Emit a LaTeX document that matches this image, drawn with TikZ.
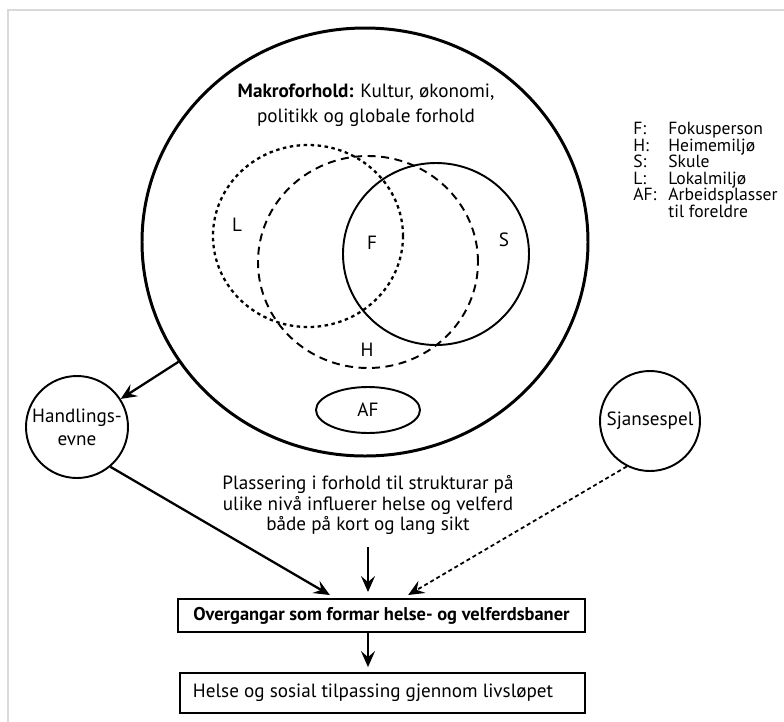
\documentclass[tikz,border=0pt]{standalone}
\usepackage{fontspec}
\setmainfont{PT Sans}
\usetikzlibrary{shapes.geometric, arrows.meta, positioning}

\begin{document}
\begin{tikzpicture}[x=0.2mm, y=-0.2mm,
  txt/.style={font=\fontsize{10.9}{14.2}\selectfont},
  ring/.style={draw, ellipse, line width=1.1pt, inner sep=0pt},
  lbl/.style={txt, inner sep=0pt},
  arr/.style={-{Stealth[length=3.2mm, width=2.8mm, inset=1.2mm]}, line width=1.3pt},
  box/.style={draw, line width=1.1pt, font=\fontsize{10.5}{12}\selectfont}]
\useasboundingbox (0,0) rectangle (784,722);
\fill[white] (0,0) rectangle (784,722);
\draw[black!15, line width=0.5mm] (8,722) -- (8,10) -- (784,10);

% makroforhold og miljoa
\node[ring, line width=1.7pt, minimum width=89.2mm, minimum height=85.6mm] (makro) at (365,242) {};
\node[txt, align=center] (makrotxt) at (366,105) {\textbf{Makroforhold:} Kultur, økonomi,\\politikk og globale forhold};
\node[ring, line width=1.3pt, dash pattern=on 0.7mm off 0.7mm, minimum width=38mm, minimum height=36.4mm] (lokal) at (308,236) {};
\node[ring, dash pattern=on 1.6mm off 1.1mm, minimum width=44mm, minimum height=42.4mm] (heim) at (368,262) {};
\node[ring, minimum width=37.2mm, minimum height=36.4mm] (skule) at (436,254) {};
\node[lbl] (lokalL) at (237,225) {L};
\node[lbl] (fokusF) at (372,243) {F};
\node[lbl] (heimH) at (367,350) {H};
\node[lbl] (skuleS) at (504,240) {S};
\node[ring, txt, minimum width=20.8mm, minimum height=9.2mm] (af) at (368,410) {AF};

% forklaring
\node[anchor=north west, inner sep=0pt, align=left, font=\fontsize{10}{9.4}\selectfont] (key) at (633,122)
  {\makebox[7mm][l]{F:}Fokusperson\\
   \makebox[7mm][l]{H:}Heimemiljø\\
   \makebox[7mm][l]{S:}Skule\\
   \makebox[7mm][l]{L:}Lokalmiljø\\
   \makebox[7mm][l]{AF:}Arbeidsplasser\\
   \hspace*{7mm}til foreldre};

% handling og sjanse
\node[draw, circle, line width=1.1pt, minimum size=20.4mm, inner sep=0pt, align=center, font=\fontsize{10.9}{13}\selectfont] (handl) at (77,427) {Handlings-\\evne};
\node[draw, circle, line width=1.1pt, minimum size=20mm, inner sep=0pt, txt] (sjanse) at (650,421) {Sjansespel};
\node[align=center, inner ysep=2.4mm, font=\fontsize{10.9}{11.6}\selectfont] (plass) at (368,505) {Plassering i forhold til strukturar på\\ulike nivå influerer helse og velferd\\både på kort og lang sikt};

% boksar
\node[box, minimum width=81.4mm, minimum height=6.6mm, font=\bfseries\fontsize{10.5}{12}\selectfont] (overgang) at (381.5,615.5) {Overgangar som formar helse- og velferdsbaner};
\node[box, inner xsep=2.6mm, minimum height=8mm, font=\fontsize{10.9}{12}\selectfont] (helse) at (382.5,693) {\makebox[75.8mm][l]{Helse og sosial tilpassing gjennom livsløpet}};

\draw[arr] (makro) -- (handl);
\draw[arr, shorten >=3.4pt] (handl.-50) -- ([xshift=-9.3mm]overgang.north);
\draw[arr, shorten >=3.4pt] (plass.south) -- (plass.south |- overgang.north);
\draw[arr, line width=1pt, dash pattern=on 0.8mm off 0.6mm, shorten >=3.4pt] (sjanse.-117) -- ([xshift=4.3mm]overgang.north);
\draw[arr, shorten >=2.8pt] (plass.south |- overgang.south) -- (plass.south |- helse.north);
\end{tikzpicture}
\end{document}
